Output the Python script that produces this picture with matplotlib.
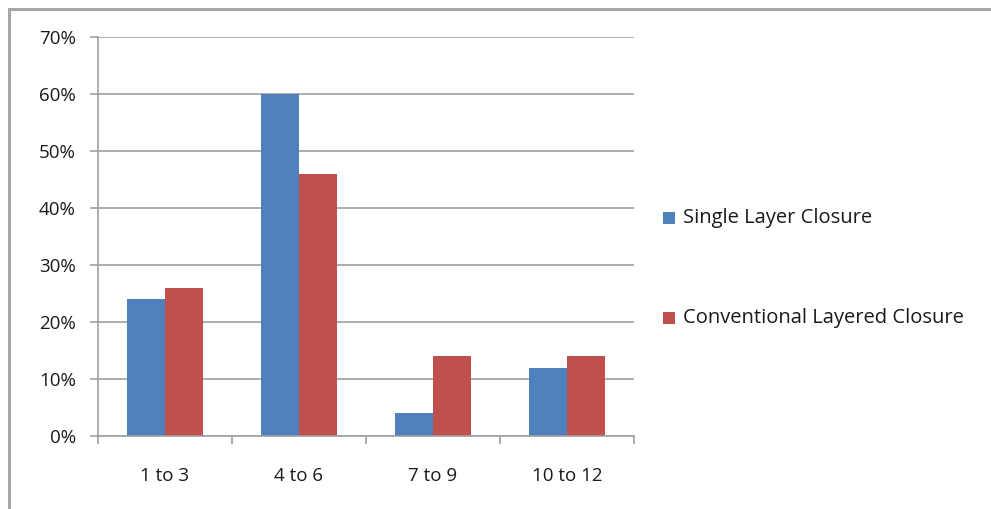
import matplotlib
matplotlib.use("Agg")
import matplotlib.pyplot as plt
from matplotlib.patches import Rectangle
import numpy as np

categories = ["1 to 3", "4 to 6", "7 to 9", "10 to 12"]
single_layer = [24, 60, 4, 12]
conventional = [26, 46, 14, 14]
series_names = ["Single Layer Closure", "Conventional Layered Closure"]
colors = ["#4f81bd", "#c0504d"]
y_ticks = [0, 10, 20, 30, 40, 50, 60, 70]

plt.rcParams["font.family"] = ["Open Sans", "DejaVu Sans"]

W, H = 991, 509
fig = plt.figure(figsize=(W / 100, H / 100), dpi=100)

# outer chart frame
fig.patches.append(Rectangle((9 / W, -0.1), 1.2, (H - 9) / H + 0.1,
                             transform=fig.transFigure, fill=False,
                             edgecolor="#a6a6a6", linewidth=2.2))

ax = fig.add_axes([98 / W, 1 - 436 / H, (634 - 98) / W, (436 - 37) / H])

x = np.arange(len(categories))
bw = 0.284
ax.bar(x - bw / 2, single_layer, bw, color=colors[0], label=series_names[0])
ax.bar(x + bw / 2, conventional, bw, color=colors[1], label=series_names[1])

ax.set_xlim(-0.5, len(categories) - 0.5)
ax.set_ylim(0, 70)
ax.set_yticks(y_ticks)
ax.set_yticklabels([f"{v}%" for v in y_ticks])
ax.set_xticks(x)
ax.set_xticklabels(categories)
ax.set_xticks(np.arange(len(categories) + 1) - 0.5, minor=True)

ax.yaxis.grid(True, color="#a0a0a0", linewidth=1.2)
ax.set_axisbelow(True)
for s in ["top", "right"]:
    ax.spines[s].set_visible(False)
for s in ["left", "bottom"]:
    ax.spines[s].set_color("#a0a0a0")
    ax.spines[s].set_linewidth(1.2)

fs = 13.5
ax.tick_params(axis="y", length=6, color="#a0a0a0", width=1.2,
               labelsize=fs, pad=10, labelcolor="#1a1a1a")
ax.tick_params(axis="x", which="major", length=0, labelsize=fs, pad=22,
               labelcolor="#1a1a1a")
ax.tick_params(axis="x", which="minor", length=6, color="#a0a0a0", width=1.2)

# legend
for i, (name, c) in enumerate(zip(series_names, colors)):
    yc = 218 + i * 100
    fig.patches.append(Rectangle((663 / W, 1 - (yc + 6) / H), 12 / W, 12 / H,
                                 transform=fig.transFigure, facecolor=c,
                                 edgecolor="none"))
    fig.text(683 / W, 1 - yc / H, name, fontsize=14.5, va="center",
             ha="left", color="#1a1a1a")

fig.savefig("out.png", dpi=100)
